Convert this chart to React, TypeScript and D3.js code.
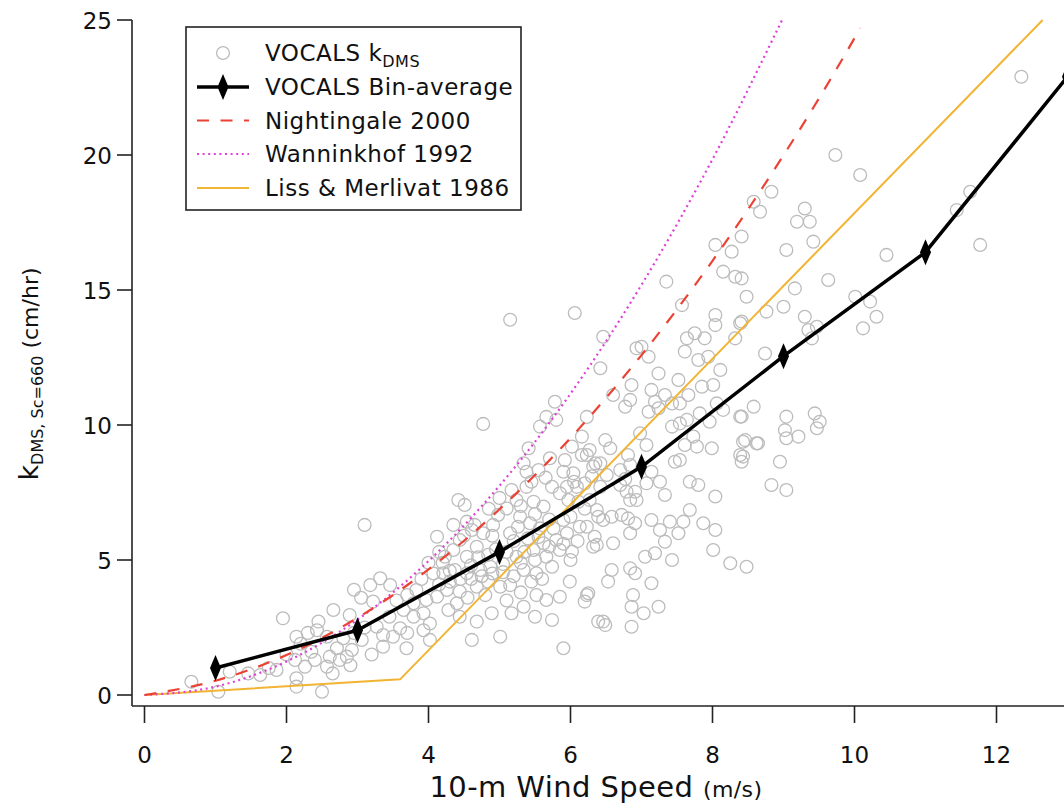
import React from 'react';
import * as d3 from 'd3';

// ---------- data ----------
const xTicks = [0, 2, 4, 6, 8, 10, 12];
const yTicks = [0, 5, 10, 15, 20, 25];

const binWind = [1, 3, 5, 7, 9, 11, 13];
const binK = [1.0, 2.4, 5.3, 8.45, 12.55, 16.4, 22.9];

const nightWind = [0, 1, 2, 3, 4, 5, 6, 7, 8, 9, 10, 10.08];
const nightK = [0, 0.53, 1.48, 2.86, 4.65, 6.88, 9.52, 12.59, 16.08, 19.99, 24.33, 24.7];

const wannWind = [0, 1, 2, 3, 4, 5, 6, 7, 8, 8.98];
const wannK = [0, 0.31, 1.24, 2.79, 4.96, 7.75, 11.16, 15.19, 19.84, 25.0];

const lmWind = [0, 3.6, 12.65];
const lmK = [0, 0.58, 25];

const obs: [number, number][] = [
  [0.66,0.49],[1.04,0.12],[1.2,0.86],[1.46,0.8],[1.63,0.74],[1.86,0.93],[1.95,2.84],[2.14,2.16],[2.14,0.62],[2.14,0.31],
  [2.5,0.12],[2.12,1.3],[2.26,1.05],[2.43,2.4],[2.45,2.72],[2.66,3.15],[2.57,2.16],[2.57,1.05],[2.71,1.73],[2.75,1.3],
  [2.61,1.42],[2.8,2.1],[2.89,2.96],[2.85,1.42],[2.92,1.67],[3.06,2.04],[3.18,4.07],[3.32,4.32],[3.46,4.07],[3.22,3.46],
  [3.27,2.53],[3.36,2.22],[3.36,1.79],[3.5,2.16],[3.6,2.47],[3.69,1.73],[3.65,3.15],[3.79,3.4],[3.83,3.89],[3.93,3.03],
  [3.93,2.4],[4.02,2.04],[4.07,4.5],[3.97,3.52],[3.1,6.3],[2.95,3.9],[3.05,3.6],[2.3,2.3],[1.75,1.0],[2.0,1.5],
  [2.35,1.6],[2.2,1.9],
  [4.77,10.04],[5.78,10.86],[5.57,9.94],[5.66,10.3],[5.8,10.19],[6.23,10.3],[6.16,9.57],[6.02,9.2],[6.27,9.07],[6.35,8.58],
  [5.41,9.14],[5.34,8.58],[5.38,8.27],[5.55,8.33],[5.71,8.77],[5.92,8.7],[5.9,8.27],[6.04,8.21],[6.16,8.89],[6.2,7.84],
  [6.09,7.71],[5.95,7.71],[5.85,7.47],[5.97,7.22],[6.11,7.16],[6.27,7.22],[6.37,6.85],[5.74,7.71],[5.62,6.98],[5.48,7.16],
  [5.38,7.71],[5.17,7.59],[5.24,7.22],[5.1,6.91],[4.42,7.22],[4.51,7.04],[4.12,5.86],[4.44,5.74],[4.61,6.11],[4.77,5.99],
  [4.91,6.3],[4.98,6.67],[5.29,6.6],[5.26,6.23],[5.43,6.36],[5.57,6.17],[5.15,5.99],[4.35,5.37],[4.23,5.12],[4.54,5.12],
  [4.68,5.49],[4.84,5.19],[4.21,4.51],[4.37,4.63],[4.54,4.51],[4.73,4.63],[4.87,4.75],[5.24,5.12],[5.48,5.37],[5.66,5.12],
  [5.85,5.37],[6.02,5.31],[5.8,5.74],[5.62,5.62],[5.95,5.99],[6.32,5.49],[5.34,4.63],[5.52,4.51],[5.74,4.75],[5.15,4.07],
  [5.01,4.01],[4.84,4.2],[4.68,4.01],[4.44,3.83],[4.26,3.89],[4.12,3.64],[3.79,2.9],[4.02,2.65],[4.28,3.15],[4.44,2.9],
  [4.61,2.04],[4.68,2.72],[4.89,3.03],[5.01,2.16],[5.17,3.03],[5.34,3.27],[5.5,2.9],[5.52,3.7],[5.66,3.52],[5.74,2.78],
  [5.85,3.64],[5.99,4.2],[5.9,1.73],[6.2,3.46],[6.25,3.77],[6.39,2.72],[5.76,6.17],[5.9,6.48],[6.13,6.23],[4.54,6.42],
  [4.6,4.3],[4.95,5.4],[5.05,4.55],[4.3,4.2],[4.7,5.1],[5.4,5.8],[5.1,5.3],[4.2,4.9],[4.5,5.9],[5.3,4.9],
  [4.3,4.6],[4.45,4.3],[4.6,4.8],[4.75,4.4],[4.9,4.5],[5.05,4.85],[5.2,4.4],[5.35,5.3],[5.5,5.0],[5.6,4.3],
  [5.7,5.5],[5.9,5.6],[6.0,5.0],[6.1,5.7],[5.55,5.85],[5.2,5.7],[4.9,5.9],[4.65,6.3],[4.85,6.9],[5.0,7.3],
  [5.3,7.0],[5.5,6.7],[5.7,6.5],[6.0,6.6],[6.2,6.9],[6.05,7.9],[5.65,8.05],[5.45,7.9],[6.3,8.1],[4.35,6.3],
  [4.15,5.3],[4.0,4.9],[3.9,4.3],[4.15,4.1],[4.4,3.4],[4.55,3.6],[4.8,3.7],[5.1,3.5],[5.3,3.8],[5.45,4.2],
  [3.7,3.7],[3.55,3.5],[3.45,2.9],[3.7,2.3],[3.1,2.5],[2.95,2.3],[2.4,1.3],[2.65,0.8],[2.9,1.1],[3.2,1.5],
  [8.04,14.07],[8.04,13.7],[8.39,13.77],[7.64,13.21],[7.75,13.4],[7.89,13.21],[8.32,13.21],[7.61,12.72],[7.8,12.41],[7.94,12.53],
  [8.11,12.04],[6.93,12.84],[7.0,12.9],[7.1,12.53],[6.46,13.27],[6.42,12.1],[7.24,11.91],[6.86,11.48],[6.6,11.11],[6.77,10.68],
  [6.84,10.93],[7.14,11.3],[7.33,11.11],[7.52,11.67],[7.66,11.11],[7.85,11.42],[8.01,11.48],[7.54,10.8],[7.43,10.8],[7.19,10.86],
  [7.1,10.49],[7.24,10.62],[7.43,9.94],[7.54,10.06],[7.64,10.19],[7.82,10.43],[8.06,10.8],[8.15,10.56],[8.39,10.31],[7.96,10.12],
  [7.73,9.57],[7.61,9.26],[7.78,9.2],[7.99,9.14],[8.43,9.38],[8.39,8.89],[8.41,8.64],[8.62,9.32],[7.47,8.64],[7.54,8.7],
  [7.07,9.26],[6.81,8.89],[6.84,8.52],[6.49,9.44],[6.56,9.14],[6.23,8.89],[6.32,8.46],[6.42,8.58],[6.51,8.15],[6.7,8.33],
  [7.14,8.27],[7.07,7.84],[6.7,7.78],[6.79,7.53],[6.91,7.53],[6.93,7.22],[6.84,7.22],[7.33,7.41],[7.68,7.9],[7.8,7.78],
  [8.04,7.35],[7.68,6.85],[7.59,6.42],[7.4,6.42],[7.87,6.36],[8.04,6.11],[7.52,5.99],[7.26,6.11],[7.14,6.48],[7.33,5.68],
  [7.19,5.25],[7.05,5.12],[7.43,5.0],[8.01,5.37],[8.25,4.88],[8.48,4.75],[6.81,6.54],[6.91,6.36],[6.58,6.6],[6.39,6.6],
  [6.46,6.48],[6.72,6.67],[6.23,6.23],[6.34,5.86],[6.6,5.62],[6.37,5.56],[6.84,5.99],[6.91,4.51],[6.84,4.69],[6.58,4.63],
  [6.53,4.2],[7.14,4.14],[6.23,3.7],[6.88,3.7],[6.86,3.27],[7.24,3.27],[7.03,3.03],[6.46,2.72],[6.49,2.59],[6.86,2.53],
  [6.77,8.0],[7.26,7.9],[6.42,7.71],[6.98,9.69],[8.58,10.68],
  [10.08,19.26],[8.83,18.64],[8.58,18.27],[8.67,17.9],[9.3,18.02],[9.19,17.53],[9.37,17.53],[9.42,16.79],[9.04,16.48],[8.41,16.98],
  [10.45,16.3],[9.63,15.37],[8.41,15.43],[9.16,15.06],[8.48,14.75],[9.0,14.38],[8.76,14.2],[8.41,13.83],[9.3,14.01],[9.35,13.52],
  [9.47,13.64],[9.4,13.21],[10.01,14.75],[10.22,14.57],[10.31,14.01],[10.12,13.58],[8.74,12.65],[8.41,10.31],[9.04,10.31],[9.44,10.43],
  [9.51,10.12],[9.47,9.88],[9.02,9.81],[9.04,9.51],[9.21,9.57],[8.46,9.44],[8.64,9.32],[8.43,8.83],[8.95,8.64],[8.83,7.78],
  [9.04,7.59],
  [9.73,20.0],[11.63,18.64],[11.44,17.96],[11.77,16.67],[8.04,16.67],[8.27,16.42],[8.15,15.68],[8.32,15.49],[7.35,15.31],[7.57,14.44],
  [12.35,22.9],[5.15,13.9],[6.06,14.15],
];

const legendLabels = ['VOCALS k', 'VOCALS Bin-average', 'Nightingale 2000', 'Wanninkhof 1992', 'Liss & Merlivat 1986'];

// ---------- layout ----------
const W = 1064, H = 804;
const FONT = '"DejaVu Sans", Verdana, sans-serif';
const axisLeft = 132, axisBottom = 706;

const x = d3.scaleLinear().domain([0, 12]).range([144.5, 996.5]);
const y = d3.scaleLinear().domain([0, 25]).range([695, 20]);

const RED = '#ea4335';
const MAGENTA = '#e040d8';
const ORANGE = '#f2b433';
const GREY = '#bcbcbc';

const diamond = 'M0,-13L5.5,0L0,13L-5.5,0Z';

function mk(xs: number[], ys: number[]): [number, number][] {
  return xs.map((v, i) => [v, ys[i]]);
}

export default function App() {
  const lineLin = d3.line<[number, number]>().x(d => x(d[0])).y(d => y(d[1]));
  const lineSmooth = d3.line<[number, number]>().x(d => x(d[0])).y(d => y(d[1])).curve(d3.curveMonotoneX);

  const binPts = mk(binWind, binK);
  const legX = 186, legY = 27, legW = 335, legH = 183;
  const rowY = [53, 87, 120.5, 154, 188];
  const symX0 = 197, symX1 = 249, txtX = 265;

  return (
    <svg width={W} height={H} style={{ position: 'absolute', left: 0, top: 0, background: '#fff' }}
      fontFamily={FONT}>
      <rect x={0} y={0} width={W} height={H} fill="#fff" />
      {/* scatter */}
      <g fill="none" stroke={GREY} strokeWidth={1.3}>
        {obs.map((d, i) => (
          <circle key={i} cx={x(d[0])} cy={y(d[1])} r={6.4} />
        ))}
      </g>
      {/* parameterizations */}
      <path d={lineLin(mk(lmWind, lmK)) || ''} fill="none" stroke={ORANGE} strokeWidth={2} />
      <path d={lineSmooth(mk(wannWind, wannK)) || ''} fill="none" stroke={MAGENTA} strokeWidth={2.2}
        strokeDasharray="2 3.6" />
      <path d={lineSmooth(mk(nightWind, nightK)) || ''} fill="none" stroke={RED} strokeWidth={2.2}
        strokeDasharray="12 11.5" />
      {/* bin average */}
      <path d={lineLin(binPts) || ''} fill="none" stroke="#000" strokeWidth={3.5} strokeLinejoin="round" />
      {binPts.map((d, i) => (
        <path key={i} d={diamond} transform={`translate(${x(d[0])},${y(d[1])})`} fill="#000" />
      ))}

      {/* axes */}
      <g stroke="#222" strokeWidth={1.6} fill="none">
        <line x1={axisLeft} y1={y(25)} x2={axisLeft} y2={axisBottom} />
        <line x1={axisLeft} y1={axisBottom} x2={W} y2={axisBottom} />
        {yTicks.map(t => (
          <line key={'yt' + t} x1={axisLeft - 15} x2={axisLeft} y1={y(t)} y2={y(t)} />
        ))}
        {xTicks.map(t => (
          <line key={'xt' + t} x1={x(t)} x2={x(t)} y1={axisBottom} y2={axisBottom + 17} />
        ))}
      </g>
      <g fill="#111" fontSize={23}>
        {yTicks.map(t => (
          <text key={'yl' + t} x={112} y={y(t) + 8.5} textAnchor="end">{t}</text>
        ))}
        {xTicks.map(t => (
          <text key={'xl' + t} x={x(t)} y={763} textAnchor="middle">{t}</text>
        ))}
      </g>
      {/* axis titles */}
      <text x={596} y={797} textAnchor="middle" fill="#111" fontSize={29} letterSpacing={0.4}>
        10-m Wind Speed <tspan fontSize={22}>(m/s)</tspan>
      </text>
      <text transform="translate(38,374) rotate(-90)" textAnchor="middle" fill="#111" fontSize={22}>
        <tspan fontSize={27}>k</tspan>
        <tspan fontSize={16} dy={5}>DMS, Sc=660</tspan>
        <tspan dy={-5}> (cm/hr)</tspan>
      </text>

      {/* legend */}
      <rect x={legX} y={legY} width={legW} height={legH} fill="#fff" stroke="#222" strokeWidth={1.6} />
      <circle cx={(symX0 + symX1) / 2} cy={rowY[0]} r={6.4} fill="none" stroke={GREY} strokeWidth={1.3} />
      <line x1={symX0} x2={symX1} y1={rowY[1]} y2={rowY[1]} stroke="#000" strokeWidth={3.5} />
      <path d={diamond} transform={`translate(${(symX0 + symX1) / 2},${rowY[1]})`} fill="#000" />
      <line x1={symX0} x2={symX1} y1={rowY[2]} y2={rowY[2]} stroke={RED} strokeWidth={2.2} strokeDasharray="12 11.5" />
      <line x1={symX0} x2={symX1} y1={rowY[3]} y2={rowY[3]} stroke={MAGENTA} strokeWidth={2.2} strokeDasharray="2 3.6" />
      <line x1={symX0} x2={symX1} y1={rowY[4]} y2={rowY[4]} stroke={ORANGE} strokeWidth={2} />
      <g fill="#111" fontSize={23} letterSpacing={0.5}>
        <text x={txtX} y={rowY[0] + 8}>
          {legendLabels[0]}<tspan fontSize={16} dy={6}>DMS</tspan>
        </text>
        {legendLabels.slice(1).map((l, i) => (
          <text key={l} x={txtX} y={rowY[i + 1] + 8}>{l}</text>
        ))}
      </g>
    </svg>
  );
}
